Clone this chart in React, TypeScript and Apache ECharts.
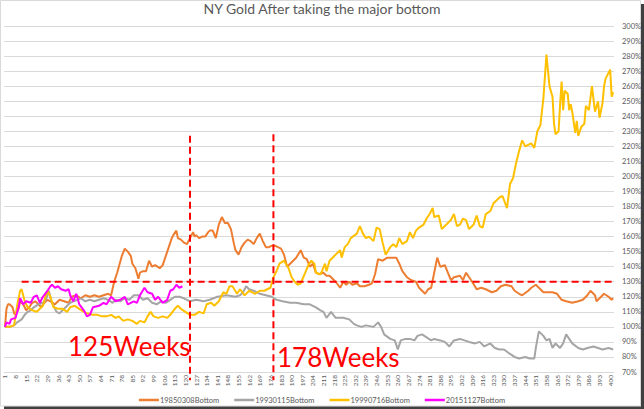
import React, { useEffect, useRef } from "react";
import * as echarts from "echarts";

const TITLE = "NY Gold After taking the major bottom";
const WEEK_COUNT = 402;
const weekLabels: string[] = Array.from({ length: WEEK_COUNT }, (_, i) => String(i + 1));

const seriesNames = ["19850308Bottom", "19930115Bottom", "19990716Bottom", "20151127Bottom"];
const seriesColors = ["#ED7D31", "#A5A5A5", "#FFC000", "#FF00FF"];

// [week index, % of bottom price]
const bottom1985: [number, number][] = [
  [0,100],[1,112],[2,115],[3,115],[5,113],[6,109],[7,108],[9,112],[10,117],[12,115],[14,111],[16,113],[18,116],[20,117],[22,115],[24,113],[26,116],[28,118],[30,117],[33,115],[36,118],[39,117],[42,116],[44,120],[47,121],[50,119],[53,121],[56,120],[59,121],[62,120],[65,121],[68,122],[70,121],[72,130],[74,136],[77,147],[79,152],[81,150],[83,147],[84,142],[86,139],[88,132],[89,136],[91,137],[93,137],[95,144],[97,140],[99,141],[102,139],[104,141],[106,147],[108,153],[110,159],[111,161],[113,164],[114,159],[116,158],[118,156],[120,155],[122,159],[124,163],[125,160],[126,161],[128,159],[130,160],[132,160],[134,163],[135,164],[137,164],[139,159],[141,168],[143,173],[145,169],[147,169],[149,165],[151,155],[152,151],[154,148],[156,153],[158,156],[160,158],[162,157],[164,155],[166,159],[168,162],[170,157],[172,153],[174,153],[176,154],[178,154],[180,153],[182,152],[184,148],[186,140],[188,142],[190,144],[192,146],[195,151],[197,146],[199,145],[201,140],[203,142],[205,136],[207,135],[210,136],[212,134],[214,134],[216,132],[218,130],[221,126],[223,130],[225,128],[227,130],[229,128],[232,129],[234,127],[237,127],[240,128],[242,129],[244,135],[246,145],[249,144],[252,146],[256,146],[258,146],[260,142],[262,137],[265,133],[268,131],[271,130],[273,126],[277,122],[279,125],[281,126],[283,136],[285,146],[287,140],[290,141],[292,136],[294,131],[296,133],[300,134],[302,131],[304,136],[306,133],[308,130],[311,125],[314,126],[317,125],[321,123],[324,124],[327,127],[330,128],[334,127],[336,124],[339,122],[341,121],[345,124],[347,126],[350,128],[352,126],[355,123],[358,123],[361,123],[364,122],[367,118],[370,117],[374,116],[378,117],[381,118],[384,121],[386,124],[389,121],[390,117],[393,120],[395,122],[398,120],[400,118],[401,119]
];

const bottom1993: [number, number][] = [
  [0,100],[3,100],[6,101],[8,103],[11,105],[13,108],[15,110],[17,111],[19,113],[22,115],[25,116],[27,118],[28,121],[29,124],[30,119],[31,116],[33,112],[34,110],[36,109],[38,111],[40,113],[43,116],[45,117],[48,118],[50,119],[53,117],[56,118],[59,117],[62,118],[65,119],[68,118],[71,116],[73,118],[76,117],[79,119],[82,118],[85,121],[88,121],[91,118],[94,119],[97,116],[100,115],[103,117],[106,116],[109,118],[112,120],[115,120],[118,119],[122,117],[126,118],[131,117],[135,118],[140,120],[146,121],[152,120],[155,121],[157,123],[159,127],[161,125],[164,124],[168,122],[172,121],[176,120],[179,118],[183,117],[188,116],[192,116],[197,115],[201,115],[205,113],[208,111],[210,110],[212,106],[215,110],[218,106],[223,106],[227,105],[230,102],[232,101],[235,100],[238,101],[243,100],[246,103],[248,100],[250,95],[254,92],[257,91],[259,85],[261,91],[264,92],[267,92],[270,91],[272,94],[275,95],[278,93],[281,91],[283,92],[287,91],[290,90],[293,87],[296,91],[300,92],[303,91],[306,90],[310,89],[313,90],[316,87],[320,89],[323,86],[326,85],[329,85],[333,82],[336,80],[339,79],[343,80],[346,79],[349,79],[350,86],[352,97],[355,94],[357,91],[359,92],[361,86],[363,89],[366,86],[368,89],[370,95],[372,92],[374,89],[378,86],[381,85],[384,86],[388,87],[391,86],[394,85],[398,86],[401,85]
];

const bottom1999: [number, number][] = [
  [0,100],[3,100],[6,101],[8,114],[10,124],[11,125],[13,117],[15,113],[18,111],[21,110],[23,112],[25,114],[27,121],[28,124],[30,120],[32,113],[35,112],[38,112],[41,110],[43,113],[46,114],[49,112],[52,110],[54,109],[58,108],[61,108],[64,107],[67,107],[70,108],[73,106],[75,107],[78,104],[81,105],[84,104],[87,102],[89,104],[92,103],[94,107],[96,110],[98,107],[101,106],[104,107],[107,106],[109,108],[112,112],[114,114],[116,112],[119,110],[122,108],[125,108],[128,110],[131,109],[133,115],[136,116],[138,114],[141,117],[144,123],[146,122],[148,127],[150,127],[153,122],[155,125],[158,121],[161,124],[165,122],[168,124],[171,124],[175,126],[177,133],[179,137],[181,142],[184,144],[187,139],[189,133],[191,130],[193,128],[195,129],[198,136],[200,141],[202,144],[204,142],[205,136],[208,135],[209,137],[211,142],[212,137],[214,144],[216,146],[218,148],[221,151],[222,146],[224,153],[226,155],[228,159],[232,162],[234,167],[236,162],[238,159],[240,160],[243,157],[245,166],[247,165],[249,156],[251,148],[254,153],[256,155],[258,153],[260,159],[262,155],[265,157],[267,163],[269,159],[271,164],[273,166],[276,168],[278,172],[280,175],[282,179],[283,173],[286,174],[288,165],[290,167],[292,169],[294,171],[296,175],[298,167],[300,168],[302,172],[304,171],[306,165],[309,168],[311,174],[313,167],[315,166],[317,175],[320,177],[322,182],[324,184],[326,186],[328,187],[331,179],[333,195],[335,199],[337,209],[339,217],[341,224],[343,220],[345,221],[347,222],[349,219],[351,230],[353,234],[355,252],[357,281],[359,260],[361,253],[362,235],[363,228],[365,230],[366,248],[367,263],[368,244],[369,257],[371,255],[372,244],[373,248],[374,243],[376,229],[377,237],[378,227],[380,233],[382,235],[383,247],[385,244],[387,260],[389,243],[391,250],[392,239],[394,249],[395,260],[396,265],[399,271],[400,253],[401,256]
];

const bottom2015: [number, number][] = [
  [0,100],[1,103],[3,102],[4,105],[7,106],[9,113],[10,119],[12,115],[14,117],[17,116],[19,120],[21,121],[23,116],[25,120],[28,124],[30,127],[31,128],[33,126],[35,127],[37,125],[40,124],[42,125],[43,121],[45,117],[47,122],[49,115],[52,111],[54,107],[56,108],[58,113],[62,114],[65,116],[67,115],[70,120],[73,117],[76,118],[79,120],[81,115],[85,117],[87,116],[89,121],[92,126],[94,123],[97,122],[99,118],[101,120],[104,116],[107,118],[109,124],[111,125],[113,128],[115,126],[117,127]
];

// Annotation lines in data coordinates: [week index, %]
const level130: [number, number][] = [[11, 130], [401.5, 130]];
const week125Line: [number, number][] = [[122, 227], [122, 64.5]];
const week178Line: [number, number][] = [[177, 228], [177, 64.5]];

const annotationTexts = ["125Weeks", "178Weeks"];

const FONT = "Lato, 'Open Sans', sans-serif";

export default function App() {
  const ref = useRef<HTMLDivElement>(null);

  useEffect(() => {
    if (!ref.current) return;
    const chart = echarts.init(ref.current, undefined, { renderer: "svg" });
    const dataSets = [bottom1985, bottom1993, bottom1999, bottom2015];
    const mainSeries = dataSets.map((d, i) => ({
      name: seriesNames[i],
      type: "line",
      data: d,
      showSymbol: false,
      symbol: "none",
      lineStyle: { color: seriesColors[i], width: 2 },
      itemStyle: { color: seriesColors[i] },
      z: 2 + i * 0.1,
    }));
    const redLines = [level130, week125Line, week178Line].map((d) => ({
      type: "line",
      data: d,
      showSymbol: false,
      symbol: "none",
      clip: false,
      silent: true,
      lineStyle: { color: "#FF0000", width: 2, type: [7, 4] },
      z: 5,
    }));

    chart.setOption({
      animation: false,
      backgroundColor: "#ffffff",
      textStyle: { fontFamily: FONT },
      title: {
        text: TITLE,
        left: "center",
        top: 1,
        padding: 0,
        textStyle: { color: "#595959", fontSize: 14, fontWeight: "normal", fontFamily: FONT },
      },
      legend: {
        data: seriesNames,
        top: 394,
        left: "center",
        padding: 2,
        itemWidth: 20,
        itemHeight: 2.5,
        itemGap: 15,
        icon: "rect",
        textStyle: { color: "#595959", fontSize: 7.5, fontFamily: FONT, padding: [0, 0, 0, -4] },
      },
      grid: { left: 4.2, right: 29.6, top: 26, bottom: 37, containLabel: false },
      xAxis: {
        type: "category",
        data: weekLabels,
        boundaryGap: true,
        axisLine: { show: true, lineStyle: { color: "#D9D9D9" } },
        axisTick: { show: false },
        axisLabel: {
          interval: 6,
          rotate: 90,
          fontSize: 6.5,
          color: "#595959",
          margin: 3,
          fontFamily: FONT,
        },
        splitLine: { show: false },
      },
      yAxis: {
        type: "value",
        position: "right",
        min: 70,
        max: 300,
        interval: 10,
        axisLine: { show: false },
        axisTick: { show: false },
        axisLabel: {
          formatter: "{value}%",
          fontSize: 7.5,
          color: "#595959",
          margin: 8,
          fontFamily: FONT,
        },
        splitLine: { lineStyle: { color: "#D9D9D9", width: 1 } },
      },
      series: [...mainSeries, ...redLines],
      graphic: [
        {
          type: "rect",
          shape: { x: 0.5, y: 0.5, width: 640, height: 405.5 },
          style: { fill: "none", stroke: "#D9D9D9", lineWidth: 1 },
          silent: true,
        },
        {
          type: "rect",
          shape: { x: 4, y: 406.5, width: 639, height: 2.5 },
          style: { fill: "#404040" },
          silent: true,
        },
        {
          type: "rect",
          shape: { x: 641, y: 4, width: 3, height: 405 },
          style: { fill: "#404040" },
          silent: true,
        },
        {
          type: "text",
          x: 68,
          y: 346,
          silent: true,
          style: {
            text: annotationTexts[0],
            fill: "#FF0000",
            fontSize: 26,
            fontFamily: FONT,
            verticalAlign: "middle",
            align: "left",
          },
          z: 10,
        },
        {
          type: "text",
          x: 277,
          y: 357,
          silent: true,
          style: {
            text: annotationTexts[1],
            fill: "#FF0000",
            fontSize: 26,
            fontFamily: FONT,
            verticalAlign: "middle",
            align: "left",
          },
          z: 10,
        },
      ],
    });
    return () => chart.dispose();
  }, []);

  return (
    <div
      ref={ref}
      style={{ position: "fixed", left: 0, top: 0, width: 644, height: 409, background: "#fff" }}
    />
  );
}
